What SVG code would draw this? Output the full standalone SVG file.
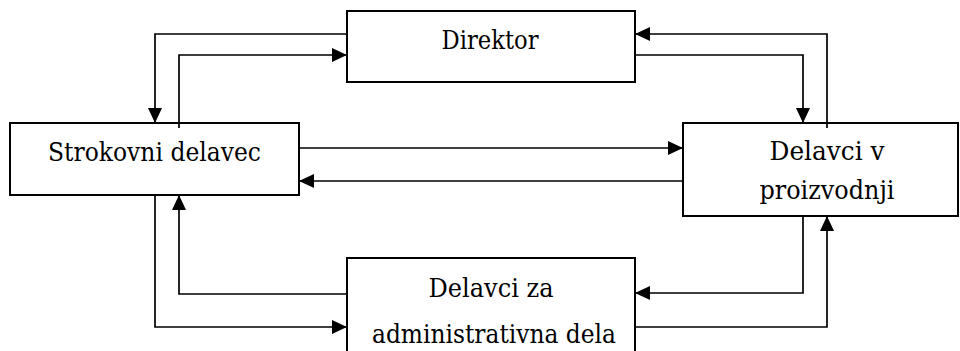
<svg xmlns="http://www.w3.org/2000/svg" width="960" height="351" viewBox="0 0 960 351">
<style>
.box{fill:#fff;stroke:#000;stroke-width:2}
.lbl{font-family:'DejaVu Serif','Liberation Serif',serif;font-size:26px;fill:#000;text-anchor:middle}
.c{fill:none;stroke:#000;stroke-width:1.7;marker-end:url(#ah)}
</style>
<defs>
<marker id="ah" markerUnits="userSpaceOnUse" markerWidth="15" markerHeight="14" viewBox="0 0 15 14" refX="15" refY="7" orient="auto">
<path d="M0,0 L15,7 L0,14 Z" fill="#000"/>
</marker>
</defs>
<g id="direktor">
<rect class="box" x="347" y="11" width="288" height="71"/>
<text class="lbl" x="490" y="49" textLength="97" lengthAdjust="spacingAndGlyphs">Direktor</text>
</g>
<g id="strokovni">
<rect class="box" x="10" y="123" width="289" height="72"/>
<text class="lbl" x="154.5" y="161" textLength="213" lengthAdjust="spacingAndGlyphs">Strokovni delavec</text>
</g>
<g id="proizvodnja">
<rect class="box" x="683" y="123" width="275" height="93"/>
<text class="lbl" x="827" y="160" textLength="115" lengthAdjust="spacingAndGlyphs">Delavci v</text>
<text class="lbl" x="827" y="199" textLength="135" lengthAdjust="spacingAndGlyphs">proizvodnji</text>
</g>
<g id="administracija">
<rect class="box" x="347" y="258" width="288" height="110"/>
<text class="lbl" x="491" y="297" textLength="125" lengthAdjust="spacingAndGlyphs">Delavci za</text>
<text class="lbl" x="494" y="343" textLength="244" lengthAdjust="spacingAndGlyphs">administrativna dela</text>
</g>
<g id="connectors">
<path class="c" d="M347,34 H155 V123"/>
<path class="c" d="M179,128 V55 H347"/>
<path class="c" d="M635,55 H803 V123"/>
<path class="c" d="M827,128 V34 H635"/>
<path class="c" d="M299,148 H683"/>
<path class="c" d="M683,181 H299"/>
<path class="c" d="M155,195 V327 H347"/>
<path class="c" d="M347,294 H179 V195"/>
<path class="c" d="M803,216 V293 H635"/>
<path class="c" d="M635,327 H827 V216"/>
</g>
</svg>
